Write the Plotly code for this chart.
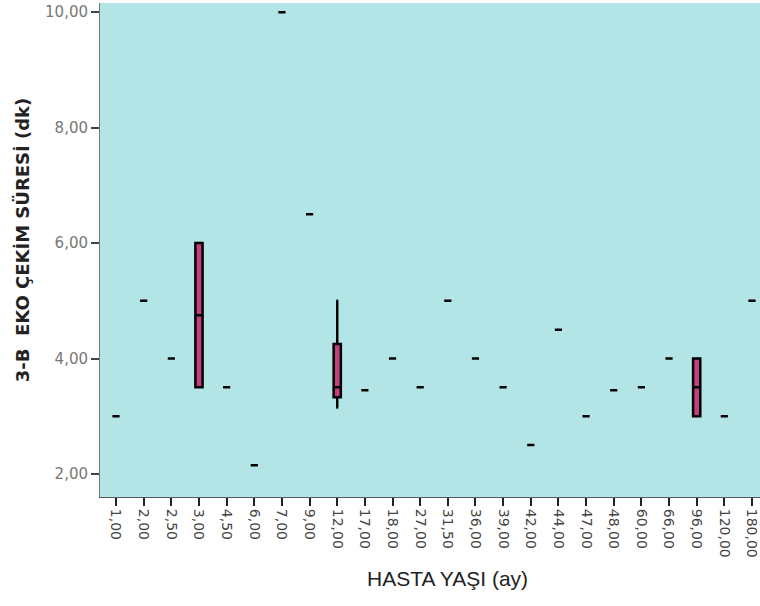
import plotly.graph_objects as go

categories = ["1,00", "2,00", "2,50", "3,00", "4,50", "6,00", "7,00", "9,00",
              "12,00", "17,00", "18,00", "27,00", "31,50", "36,00", "39,00",
              "42,00", "44,00", "47,00", "48,00", "60,00", "66,00", "96,00",
              "120,00", "180,00"]
lower = [3.0, 5.0, 4.0, 3.5, 3.5, 2.15, 10.0, 6.5, 3.15, 3.45, 4.0, 3.5, 5.0, 4.0,
         3.5, 2.5, 4.5, 3.0, 3.45, 3.5, 4.0, 3.0, 3.0, 5.0]
q1 = [3.0, 5.0, 4.0, 3.5, 3.5, 2.15, 10.0, 6.5, 3.33, 3.45, 4.0, 3.5, 5.0, 4.0,
      3.5, 2.5, 4.5, 3.0, 3.45, 3.5, 4.0, 3.0, 3.0, 5.0]
median = [3.0, 5.0, 4.0, 4.75, 3.5, 2.15, 10.0, 6.5, 3.5, 3.45, 4.0, 3.5, 5.0, 4.0,
          3.5, 2.5, 4.5, 3.0, 3.45, 3.5, 4.0, 3.5, 3.0, 5.0]
q3 = [3.0, 5.0, 4.0, 6.0, 3.5, 2.15, 10.0, 6.5, 4.25, 3.45, 4.0, 3.5, 5.0, 4.0,
      3.5, 2.5, 4.5, 3.0, 3.45, 3.5, 4.0, 4.0, 3.0, 5.0]
upper = [3.0, 5.0, 4.0, 6.0, 3.5, 2.15, 10.0, 6.5, 5.0, 3.45, 4.0, 3.5, 5.0, 4.0,
         3.5, 2.5, 4.5, 3.0, 3.45, 3.5, 4.0, 4.0, 3.0, 5.0]
y_ticks = [2, 4, 6, 8, 10]
y_tick_labels = ["2,00", "4,00", "6,00", "8,00", "10,00"]

fig = go.Figure()
fig.add_trace(go.Box(
    x=categories, q1=q1, median=median, q3=q3,
    lowerfence=lower, upperfence=upper,
    fillcolor="#C2407D",
    line=dict(color="black", width=2.5),
    width=0.26, whiskerwidth=0.25,
    boxpoints=False, showlegend=False, hoverinfo="skip",
))

fig.update_layout(
    width=760, height=606,
    margin=dict(l=100, r=0, t=3, b=109),
    paper_bgcolor="white",
    plot_bgcolor="#B3E5E6",
    font=dict(family="DejaVu Sans, Liberation Sans, sans-serif", size=12, color="#333"),
    xaxis=dict(
        type="category", categoryorder="array", categoryarray=categories,
        range=[-0.58, 23.29],
        tickangle=90, ticks="outside", ticklen=8, tickwidth=2, tickcolor="#222",
        tickfont=dict(size=14, color="#444"),
        showline=True, linecolor="#555", linewidth=1,
        showgrid=False, zeroline=False,
    ),
    yaxis=dict(
        range=[1.6, 10.16],
        tickvals=y_ticks, ticktext=y_tick_labels,
        ticks="outside", ticklen=8, tickwidth=2, tickcolor="#444",
        tickfont=dict(size=15, color="#777"),
        showline=True, linecolor="#777", linewidth=1,
        showgrid=False, zeroline=False,
    ),
    annotations=[
        dict(text="<b>3-B  EKO ÇEKİM SÜRESİ (dk)</b>", textangle=-90,
             xref="paper", yref="paper", x=-0.118, y=0.52,
             showarrow=False,
             font=dict(family="DejaVu Sans, sans-serif", size=18, color="#222"),
             xanchor="center", yanchor="middle"),
        dict(text="HASTA YAŞI (ay)",
             xref="paper", yref="paper", x=0.527, y=-0.164,
             showarrow=False,
             font=dict(family="Liberation Sans, Arial, sans-serif", size=21, color="#222"),
             xanchor="center", yanchor="middle"),
    ],
)

fig.write_html("out.html")
